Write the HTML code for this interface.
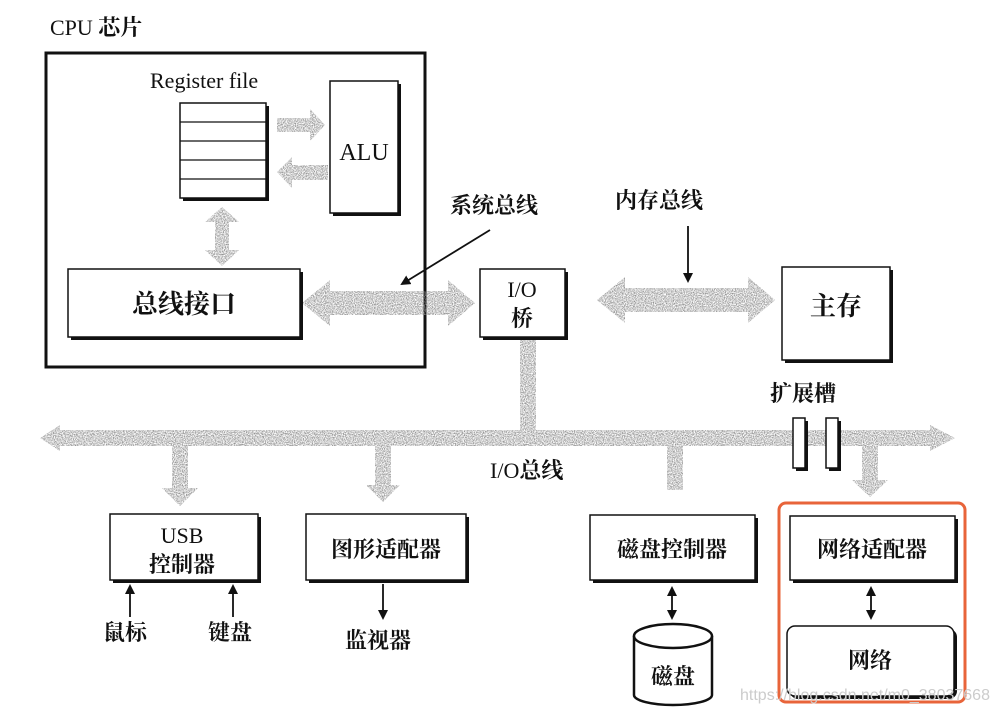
<!DOCTYPE html>
<html><head><meta charset="utf-8"><style>
html,body{margin:0;padding:0;background:#fff;}
svg{display:block;}
text{font-family:"Liberation Serif","Noto Serif CJK SC",serif;fill:#111;}
.cj{font-family:"Liberation Serif","Noto Serif CJK SC",serif;font-weight:bold;}
.n{font-weight:normal;}
</style></head><body>
<svg width="997" height="715" viewBox="0 0 997 715" xmlns="http://www.w3.org/2000/svg">
<defs>
<filter id="sp" x="-10%" y="-10%" width="120%" height="120%">
<feTurbulence type="fractalNoise" baseFrequency="0.9" numOctaves="2" seed="3" result="n"/>
<feColorMatrix in="n" type="matrix" values="0 0 0 0 0.25  0 0 0 0 0.25  0 0 0 0 0.25  0 0 0 -2.2 1.5" result="m"/>
<feComposite in="m" in2="SourceGraphic" operator="in"/>
</filter>
<marker id="ah" markerWidth="10" markerHeight="10" refX="8" refY="5" orient="auto" markerUnits="userSpaceOnUse"><path d="M0,0 L10,5 L0,10 Z" fill="#111"/></marker>
<marker id="ahs" markerWidth="10" markerHeight="10" refX="2" refY="5" orient="auto" markerUnits="userSpaceOnUse"><path d="M10,0 L0,5 L10,10 Z" fill="#111"/></marker>
</defs>

<text x="50" y="35" font-size="22" class="cj"><tspan class="n">CPU </tspan>芯片</text>
<rect x="46" y="53" width="379" height="314" fill="none" stroke="#111" stroke-width="3"/>
<text x="150" y="88" font-size="22">Register file</text>
<rect x="183" y="106" width="86" height="95" fill="#111"/>
<rect x="180" y="103" width="86" height="95" fill="#fff" stroke="#111" stroke-width="1.5"/>
<g stroke="#111" stroke-width="1.2"><line x1="180" y1="122" x2="266" y2="122"/><line x1="180" y1="141" x2="266" y2="141"/><line x1="180" y1="160" x2="266" y2="160"/><line x1="180" y1="179" x2="266" y2="179"/></g>
<rect x="333" y="84" width="68" height="132" fill="#111"/>
<rect x="330" y="81" width="68" height="132" fill="#fff" stroke="#111" stroke-width="1.5"/>
<text x="364" y="160" font-size="24" text-anchor="middle">ALU</text>

<g filter="url(#sp)" fill="#555">
<path d="M277,118 L310,118 L310,109 L325,125 L310,141 L310,132 L277,132 Z"/>
<path d="M328,165 L292,165 L292,157 L277,172 L292,188 L292,180 L328,180 Z"/>
<path d="M215,222 L205,222 L222,207 L239,222 L229,222 L229,250 L239,250 L222,266 L205,250 L215,250 Z"/>
<path d="M302,303 L330,280 L330,291 L448,291 L448,280 L475,303 L448,326 L448,315 L330,315 L330,326 Z"/>
<path d="M597,300 L625,277 L625,288 L748,288 L748,277 L775,300 L748,323 L748,312 L625,312 L625,323 Z"/>
<path d="M520,340 L536,340 L536,432 L520,432 Z"/>
<path d="M40,438 L60,425 L60,430 L930,430 L930,425 L955,438 L930,451 L930,446 L60,446 L60,451 Z"/>
<path d="M172,446 L188,446 L188,488 L198,488 L180,506 L162,488 L172,488 Z"/>
<path d="M375,446 L391,446 L391,485 L400,485 L383,502 L366,485 L375,485 Z"/>
<path d="M667,446 L683,446 L683,490 L667,490 Z"/>
<path d="M862,446 L878,446 L878,480 L888,480 L870,497 L852,480 L862,480 Z"/>
</g>
<rect x="71" y="272" width="232" height="68" fill="#111"/>
<rect x="68" y="269" width="232" height="68" fill="#fff" stroke="#111" stroke-width="1.5"/>
<text x="184" y="313" font-size="26" text-anchor="middle" class="cj">总线接口</text>

<text x="450" y="213" font-size="22" class="cj">系统总线</text>
<line x1="490" y1="230" x2="402" y2="284" stroke="#111" stroke-width="1.8" marker-end="url(#ah)"/>
<text x="615" y="208" font-size="22" class="cj">内存总线</text>
<line x1="688" y1="226" x2="688" y2="281" stroke="#111" stroke-width="1.8" marker-end="url(#ah)"/>

<rect x="483" y="272" width="85" height="68" fill="#111"/>
<rect x="480" y="269" width="85" height="68" fill="#fff" stroke="#111" stroke-width="1.5"/>
<text x="522" y="297" font-size="22" text-anchor="middle">I/O</text>
<text x="522" y="326" font-size="22" text-anchor="middle" class="cj">桥</text>
<rect x="785" y="270" width="108" height="93" fill="#111"/>
<rect x="782" y="267" width="108" height="93" fill="#fff" stroke="#111" stroke-width="1.5"/>
<text x="836" y="315" font-size="26" text-anchor="middle" class="cj">主存</text>

<text x="770" y="401" font-size="22" class="cj">扩展槽</text>
<rect x="796" y="421" width="12" height="50" fill="#111"/><rect x="793" y="418" width="12" height="50" fill="#fff" stroke="#111" stroke-width="1.5"/>
<rect x="829" y="421" width="12" height="50" fill="#111"/><rect x="826" y="418" width="12" height="50" fill="#fff" stroke="#111" stroke-width="1.5"/>
<text x="490" y="478" font-size="22" class="cj"><tspan class="n">I/O</tspan>总线</text>

<rect x="113" y="517" width="148" height="66" fill="#111"/>
<rect x="110" y="514" width="148" height="66" fill="#fff" stroke="#111" stroke-width="1.5"/>
<text x="182" y="543" font-size="22" text-anchor="middle">USB</text>
<text x="182" y="572" font-size="22" text-anchor="middle" class="cj">控制器</text>
<line x1="130" y1="617" x2="130" y2="586" stroke="#111" stroke-width="1.8" marker-end="url(#ah)"/>
<line x1="233" y1="617" x2="233" y2="586" stroke="#111" stroke-width="1.8" marker-end="url(#ah)"/>
<text x="103" y="640" font-size="22" class="cj">鼠标</text>
<text x="208" y="640" font-size="22" class="cj">键盘</text>
<rect x="309" y="517" width="160" height="66" fill="#111"/>
<rect x="306" y="514" width="160" height="66" fill="#fff" stroke="#111" stroke-width="1.5"/>
<text x="386" y="557" font-size="22" text-anchor="middle" class="cj">图形适配器</text>
<line x1="383" y1="584" x2="383" y2="618" stroke="#111" stroke-width="1.8" marker-end="url(#ah)"/>
<text x="345" y="648" font-size="22" class="cj">监视器</text>
<rect x="593" y="518" width="165" height="65" fill="#111"/>
<rect x="590" y="515" width="165" height="65" fill="#fff" stroke="#111" stroke-width="1.5"/>
<text x="672" y="557" font-size="22" text-anchor="middle" class="cj">磁盘控制器</text>
<line x1="672" y1="588" x2="672" y2="618" stroke="#111" stroke-width="1.8" marker-end="url(#ah)" marker-start="url(#ahs)"/>
<path d="M634,636 L634,695 A39,10 0 0 0 712,695 L712,636" fill="#fff" stroke="#111" stroke-width="2.5"/>
<ellipse cx="673" cy="636" rx="39" ry="12" fill="#fff" stroke="#111" stroke-width="2.5"/>
<text x="673" y="684" font-size="22" text-anchor="middle" class="cj">磁盘</text>
<rect x="779" y="503" width="186" height="199" rx="7" fill="none" stroke="#e8643a" stroke-width="3"/>
<rect x="793" y="519" width="165" height="64" fill="#111"/>
<rect x="790" y="516" width="165" height="64" fill="#fff" stroke="#111" stroke-width="1.5"/>
<text x="872" y="557" font-size="22" text-anchor="middle" class="cj">网络适配器</text>
<line x1="871" y1="588" x2="871" y2="618" stroke="#111" stroke-width="1.8" marker-end="url(#ah)" marker-start="url(#ahs)"/>
<rect x="790" y="629" width="167" height="70" rx="8" fill="#111"/>
<rect x="787" y="626" width="167" height="70" rx="8" fill="#fff" stroke="#111" stroke-width="1.5"/>
<text x="870" y="668" font-size="22" text-anchor="middle" class="cj">网络</text>
<text x="740" y="700" font-size="16" style="fill:#ccc;font-family:'Liberation Sans',sans-serif">https://blog.csdn.net/m0_38037668</text>
</svg>
</body></html>
